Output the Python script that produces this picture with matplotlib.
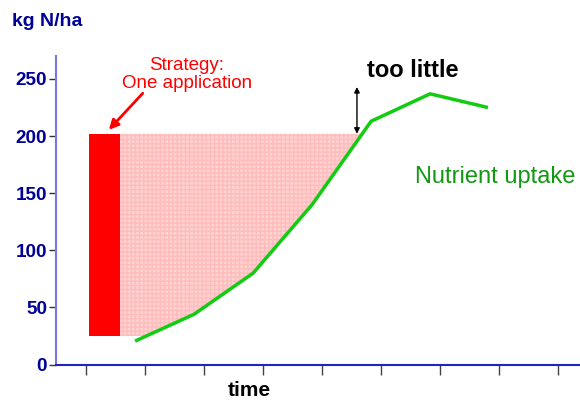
import numpy as np
import matplotlib
matplotlib.use("Agg")
import matplotlib.pyplot as plt

plt.rcParams['font.family'] = ['Liberation Sans', 'DejaVu Sans']

# Data
uptake_time = [1.84, 2.84, 3.84, 4.84, 5.84, 6.84, 7.82]
uptake_vals = [20.5, 44, 80, 140, 213, 237, 225]
bar_left, bar_right = 1.06, 1.58
bar_bottom, bar_top = 25, 202
yticks = [0, 50, 100, 150, 200, 250]
xticks = [1, 2, 3, 4, 5, 6, 7, 8, 9]

fig = plt.figure(figsize=(5.8, 4.01), dpi=100)
ax = fig.add_axes([0.0966, 0.091, 0.9034, 0.769])
ax.set_xlim(0.5, 9.38)
ax.set_ylim(0, 270)

# dotted fill between bar and uptake curve
ys = np.linspace(bar_bottom, bar_top, 200)
xs_curve = np.interp(ys, uptake_vals[:5], uptake_time[:5])
ax.fill_betweenx(ys, bar_right, xs_curve, facecolor='#ffd2d2', edgecolor='none',
                 hatch='++++', zorder=1)
for c in ax.collections:
    c.set_edgecolor('#ffbcbc')
    c.set_linewidth(0)

# red bar
ax.bar([(bar_left + bar_right) / 2], [bar_top - bar_bottom], bottom=bar_bottom,
       width=bar_right - bar_left, color='#ff0000', zorder=2)

# uptake line
ax.plot(uptake_time, uptake_vals, color='#11cc11', lw=2.5, zorder=3,
        solid_capstyle='butt')

# "too little" arrow
ax.annotate('', xy=(5.6, 202), xytext=(5.6, 243),
            arrowprops=dict(arrowstyle='<|-|>', color='black', lw=1,
                            mutation_scale=8, shrinkA=0, shrinkB=0))
ax.text(6.55, 257, 'too little', fontsize=17, fontweight='bold', color='black',
        ha='center', va='center')

# strategy arrow
ax.annotate('', xy=(1.395, 205.5), xytext=(1.97, 237.5),
            arrowprops=dict(arrowstyle='-|>', color='#ff0000', lw=2,
                            mutation_scale=14, shrinkA=0, shrinkB=0))
ax.text(2.72, 254, 'Strategy:\nOne application', fontsize=13.5, color='#ff0000',
        ha='center', va='center', linespacing=1.12)

ax.text(7.95, 164, 'Nutrient uptake', fontsize=17, color='#119911',
        ha='center', va='center')

# axes styling
ax.set_yticks(yticks)
ax.set_yticklabels([str(v) for v in yticks], fontsize=13.6, fontweight='bold',
                   color='#000099')
ax.set_xticks(xticks)
ax.set_xticklabels([])
ax.tick_params(axis='y', length=5, width=1, color='#333333', pad=1.5)
ax.tick_params(axis='x', length=7, width=1, color='#444444', direction='out')
for s in ['top', 'right']:
    ax.spines[s].set_visible(False)
ax.spines['left'].set_color('#7777dd')
ax.spines['left'].set_linewidth(1.5)
ax.spines['bottom'].set_color('#2222cc')
ax.spines['bottom'].set_linewidth(1.5)

fig.text(12 / 580, 1 - 22 / 401, 'kg N/ha', fontsize=14, fontweight='bold',
         color='#000099', ha='left', va='center')
fig.text(249 / 580, 1 - 390 / 401, 'time', fontsize=15, fontweight='bold',
         color='black', ha='center', va='center')

fig.savefig('out.png', dpi=100)
